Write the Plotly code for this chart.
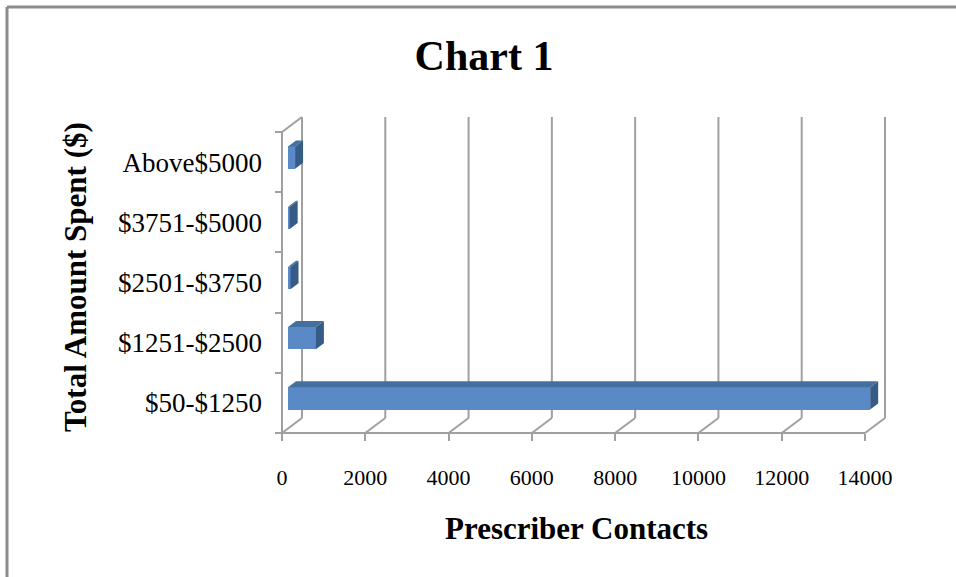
import plotly.graph_objects as go

# ---- data -------------------------------------------------------------
categories = ["$50-$1250", "$1251-$2500", "$2501-$3750", "$3751-$5000", "Above$5000"]
contacts = [13980, 670, 60, 40, 170]
x_ticks = [0, 2000, 4000, 6000, 8000, 10000, 12000, 14000]
title_text = "Chart 1"
x_title = "Prescriber Contacts"
y_title = "Total Amount Spent ($)"

# ---- geometry (pixels) ------------------------------------------------
W, H = 956, 577
L, R, T, B = 272, 900, 108, 445          # plot area
X0PX, X1PX = 282, 865                    # front-plane pixel of 0 and last tick
Y0PX, YNPX = 433, 132                    # front-plane pixel of category axis ends
n = len(categories)
k = (X1PX - X0PX) / x_ticks[-1]
ky = (Y0PX - YNPX) / n
xmin, xmax = -(X0PX - L) / k, (R - X0PX) / k
ymin, ymax = -(B - Y0PX) / ky, (Y0PX - T) / ky
DX, DY = 20 / k, 15 / ky                 # depth of the 3-D box
F1, F2 = 0.3, 0.7                        # bar front / back depth fraction
BW = 0.37                                # bar thickness (category units)

GRID = "#a0a0a0"
FRONT, TOP, SIDE = "#5a8ac6", "#44709f", "#375b87"
FONT = "Liberation Serif"


def px2paper(px, py):
    return (px - L) / (R - L), (B - py) / (B - T)


fig = go.Figure()

# bars: top & side faces
b = F1 * DX
ddx, ddy = (F2 - F1) * DX, (F2 - F1) * DY
for i, v in enumerate(contacts):
    yc = i + 0.5 + F1 * DY
    yt, yb = yc + BW / 2, yc - BW / 2
    fig.add_trace(go.Scatter(
        x=[b, b + v, b + v + ddx, b + ddx, b],
        y=[yt, yt, yt + ddy, yt + ddy, yt],
        fill="toself", fillcolor=TOP, mode="lines", line=dict(width=0),
        hoverinfo="skip", showlegend=False))
    fig.add_trace(go.Scatter(
        x=[b + v, b + v + ddx, b + v + ddx, b + v, b + v],
        y=[yb, yb + ddy, yt + ddy, yt, yb],
        fill="toself", fillcolor=SIDE, mode="lines", line=dict(width=0),
        hoverinfo="skip", showlegend=False))

# bars: front faces
fig.add_trace(go.Bar(
    orientation="h",
    x=contacts,
    y=[i + 0.5 + F1 * DY for i in range(n)],
    base=b, width=BW,
    marker=dict(color=FRONT, line=dict(width=0)),
    showlegend=False, hoverinfo="x"))

shapes = []
line = dict(color=GRID, width=2)
# back wall gridlines + floor diagonals
for v in x_ticks:
    shapes.append(dict(type="line", xref="x", yref="y", x0=v + DX, x1=v + DX,
                       y0=DY, y1=n + DY, line=line, layer="below"))
    shapes.append(dict(type="line", xref="x", yref="y", x0=v, x1=v + DX,
                       y0=0, y1=DY, line=line, layer="below"))
# top-left diagonal
shapes.append(dict(type="line", xref="x", yref="y", x0=0, x1=DX,
                   y0=n, y1=n + DY, line=line, layer="below"))
# front axis lines
shapes.append(dict(type="line", xref="x", yref="y", x0=0, x1=x_ticks[-1],
                   y0=0, y1=0, line=line))
shapes.append(dict(type="line", xref="x", yref="y", x0=0, x1=0,
                   y0=0, y1=n, line=line))
# outer chart border (top & left visible)
bx0, by0 = px2paper(7, 7)
bx1, _ = px2paper(960, 7)
_, by1 = px2paper(7, 580)
shapes.append(dict(type="line", xref="paper", yref="paper", x0=bx0, x1=bx1,
                   y0=by0, y1=by0, line=dict(color="#8c8c8c", width=3)))
shapes.append(dict(type="line", xref="paper", yref="paper", x0=bx0, x1=bx0,
                   y0=by0, y1=by1, line=dict(color="#8c8c8c", width=3)))

ax_x, ax_y = px2paper(576, 528)
ay_x, ay_y = px2paper(75, 277)
annotations = [
    dict(text=x_title, xref="paper", yref="paper", x=ax_x, y=ax_y,
         showarrow=False, xanchor="center", yanchor="middle",
         font=dict(family=FONT, size=31, color="black", weight="bold")),
    dict(text=y_title, xref="paper", yref="paper", x=ay_x, y=ay_y,
         showarrow=False, xanchor="center", yanchor="middle", textangle=-90,
         font=dict(family=FONT, size=31, color="black", weight="bold")),
]

fig.update_layout(
    width=W, height=H,
    margin=dict(l=L, r=W - R, t=T, b=H - B),
    paper_bgcolor="white", plot_bgcolor="rgba(0,0,0,0)",
    title=dict(text=title_text, xref="container", yref="container",
               x=484 / W, y=1 - 55 / H, xanchor="center", yanchor="middle",
               font=dict(family=FONT, size=42, color="black", weight="bold")),
    shapes=shapes, annotations=annotations,
    bargap=0,
    xaxis=dict(range=[xmin, xmax], tickmode="array", tickvals=x_ticks,
               ticktext=[str(t) for t in x_ticks],
               ticks="outside", ticklen=7, tickwidth=2, tickcolor=GRID,
               showgrid=False, zeroline=False, showline=False,
               anchor="free", position=(B - Y0PX) / (B - T),
               ticklabelstandoff=18,
               tickfont=dict(family=FONT, size=22, color="black")),
    yaxis=dict(range=[ymin, ymax], tickmode="array",
               tickvals=[i + 0.5 for i in range(n)], ticktext=categories,
               ticks="", showgrid=False, zeroline=False, showline=False,
               anchor="free", position=(X0PX - L) / (R - L),
               ticklabelstandoff=20,
               minor=dict(tickmode="array", tickvals=list(range(n + 1)),
                          ticks="outside", ticklen=7, tickwidth=2,
                          tickcolor=GRID, showgrid=False),
               tickfont=dict(family=FONT, size=27, color="black")),
)

fig.write_html("out.html")
